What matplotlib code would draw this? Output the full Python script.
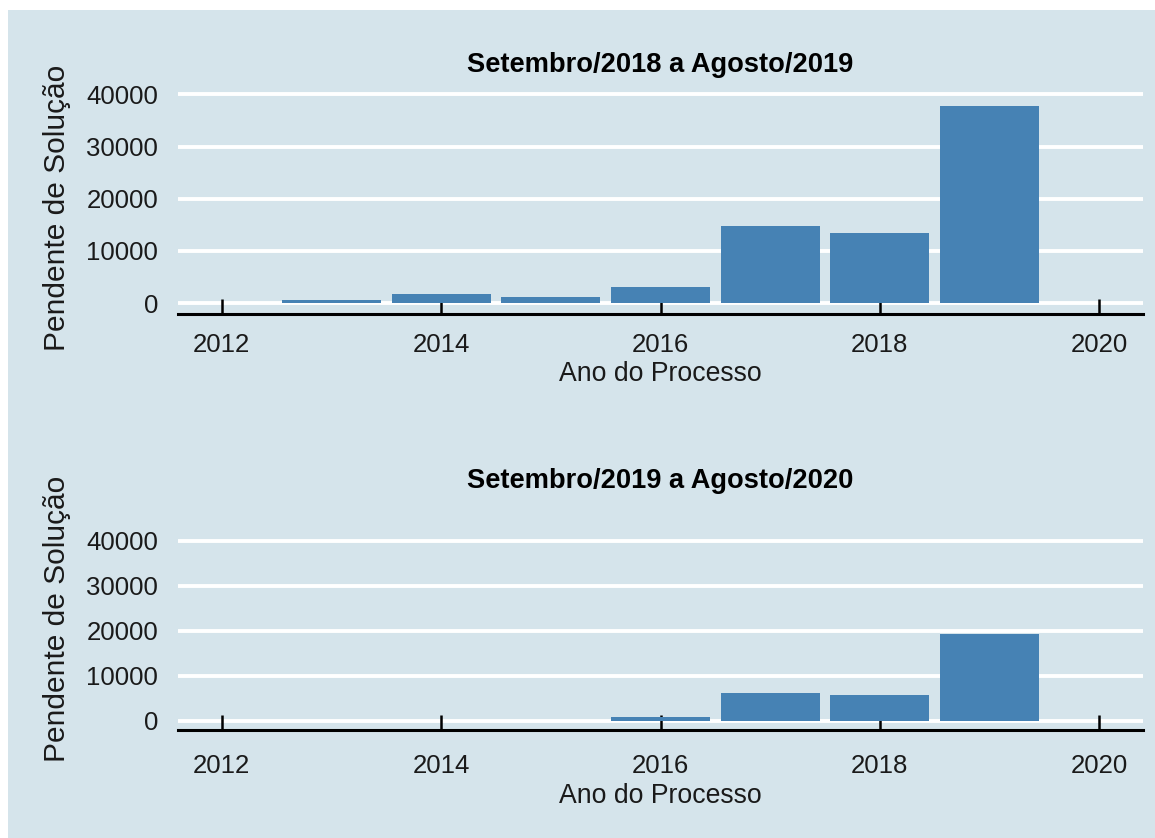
import matplotlib.pyplot as plt
from matplotlib.patches import Rectangle

# dados
anos_1 = [2013, 2014, 2015, 2016, 2017, 2018, 2019]
pendentes_1 = [650, 1670, 1150, 3070, 14720, 13380, 37750]

anos_2 = [2016, 2017, 2018, 2019]
pendentes_2 = [950, 6290, 5780, 19330]

titulos = ['Setembro/2018 a Agosto/2019', 'Setembro/2019 a Agosto/2020']
x_ticks = [2012, 2014, 2016, 2018, 2020]
y_ticks = [0, 10000, 20000, 30000, 40000]

fundo = '#d5e4eb'
barra = '#4682b4'

plt.rcParams['font.family'] = ['Liberation Sans', 'DejaVu Sans']

W, H = 1155, 838
fig = plt.figure(figsize=(W / 100, H / 100), dpi=100, facecolor='white')
# fundo azul claro com margem branca no topo e à esquerda
fig.add_artist(Rectangle((8 / W, 0), 1 - 8 / W, (H - 10) / H,
                         transform=fig.transFigure, facecolor=fundo,
                         edgecolor='none', zorder=-10))

# posições em pixels (topo, base) de cada painel
paineis = [
    dict(top=83.9, bottom=313.5, anos=anos_1, vals=pendentes_1,
         tick_pad=14.3, title_pad=8.8, xlab_top=361, ylab_c=208),
    dict(top=531.5, bottom=730.0, anos=anos_2, vals=pendentes_2,
         tick_pad=17.5, title_pad=31.3, xlab_top=783, ylab_c=618.5),
]

left_px, right_px = 178, 1143
for p, titulo in zip(paineis, titulos):
    ax = fig.add_axes([left_px / W, (H - p['bottom']) / H,
                       (right_px - left_px) / W, (p['bottom'] - p['top']) / H])
    ax.set_facecolor(fundo)

    # linhas de grade brancas abaixo das barras; marcas do eixo ficam por cima
    for yt in y_ticks:
        ax.axhline(yt, color='white', linewidth=2.8, zorder=1)
    ax.bar(p['anos'], p['vals'], width=0.9, color=barra, zorder=2)

    ax.set_xlim(2011.6, 2020.4)
    ax.set_ylim(-2000, 42000)
    ax.set_xticks(x_ticks)
    ax.set_yticks(y_ticks)
    ax.grid(False)

    for s in ['top', 'right', 'left']:
        ax.spines[s].set_visible(False)
    ax.spines['bottom'].set_color('black')
    ax.spines['bottom'].set_linewidth(2.2)
    ax.spines['bottom'].set_zorder(4)

    ax.tick_params(axis='x', direction='in', length=11, width=1.8,
                   color='black', pad=p['tick_pad'], labelsize=18.5,
                   labelcolor='#1a1a1a')
    ax.tick_params(axis='y', length=0, pad=14.4, labelsize=18.5,
                   labelcolor='#1a1a1a')

    ax.set_title(titulo, fontsize=19.6, fontweight='bold', pad=p['title_pad'])

    h_px = p['bottom'] - p['top']
    ax.set_xlabel('Ano do Processo', fontsize=19.2, color='#1a1a1a')
    ax.xaxis.set_label_coords(0.5, -(p['xlab_top'] - p['bottom']) / h_px)
    ax.set_ylabel('Pendente de Solução', fontsize=21.5, color='#1a1a1a',
                  va='center')
    ax.yaxis.set_label_coords((57 - left_px) / (right_px - left_px),
                              (p['bottom'] - p['ylab_c']) / h_px)

fig.savefig('out.png', dpi=100, facecolor='white')
